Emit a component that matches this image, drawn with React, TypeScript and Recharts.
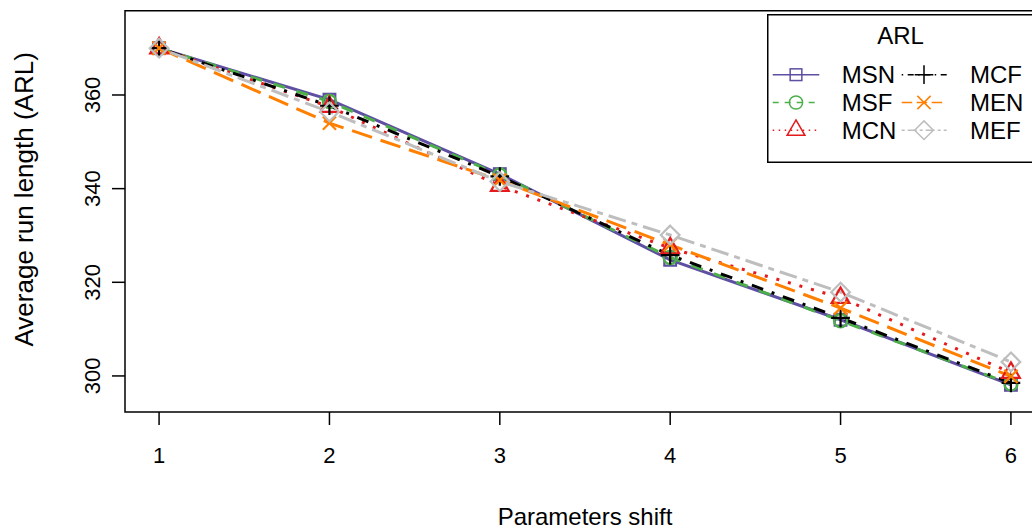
import React from 'react';
import { LineChart, Line, XAxis, YAxis, ReferenceArea, Legend, Label } from 'recharts';

const shifts = [1, 2, 3, 4, 5, 6];
const MSN = [370.0, 359.0, 343.1, 324.8, 312.0, 298.1];
const MSF = [370.0, 358.6, 342.9, 325.3, 311.8, 298.3];
const MCN = [370.0, 357.5, 340.6, 327.3, 316.7, 300.7];
const MCF = [370.0, 357.7, 342.6, 325.8, 312.4, 298.5];
const MEN = [370.0, 354.0, 341.8, 328.0, 314.5, 299.9];
const MEF = [370.0, 356.4, 341.5, 330.1, 317.9, 303.0];

const seriesNames = ['MSN', 'MSF', 'MCN', 'MCF', 'MEN', 'MEF'];
const seriesValues = [MSN, MSF, MCN, MCF, MEN, MEF];
const seriesColors = ['#5e4fa2', '#4daf4a', '#e41a1c', '#000000', '#ff7f00', '#bebebe'];
const seriesLty: number[][] = [[], [4, 4], [1, 3], [1, 3, 4, 3], [7, 3], [2, 2, 6, 2]];
const seriesPch = ['square', 'circle', 'triangle', 'plus', 'cross', 'diamond'];
const xTicks = [1, 2, 3, 4, 5, 6];
const yTicks = [300, 320, 340, 360];
const legendTitle = 'ARL';
const xTitle = 'Parameters shift';
const yTitle = 'Average run length (ARL)';

const FONT = '"Liberation Sans", Arial, Helvetica, sans-serif';

const data = shifts.map((s, i) => {
  const row: any = { shift: s };
  seriesNames.forEach((n, k) => (row[n] = seriesValues[k][i]));
  return row;
});

function Marker({ cx, cy, pch, color, sw, r }: any) {
  if (cx == null || cy == null) return null;
  const common = { fill: 'none', stroke: color, strokeWidth: sw };
  switch (pch) {
    case 'square': {
      const h = r * 0.886;
      return <rect x={cx - h} y={cy - h} width={2 * h} height={2 * h} {...common} />;
    }
    case 'circle':
      return <circle cx={cx} cy={cy} r={r} {...common} />;
    case 'triangle': {
      const rr = 1.555 * r, yc = 0.7776 * r, xc = 1.3468 * r;
      return <polygon points={`${cx},${cy - rr} ${cx + xc},${cy + yc} ${cx - xc},${cy + yc}`} {...common} />;
    }
    case 'plus': {
      const a = 1.414 * r;
      return <path d={`M${cx - a},${cy}H${cx + a}M${cx},${cy - a}V${cy + a}`} {...common} />;
    }
    case 'cross': {
      const a = r;
      return <path d={`M${cx - a},${cy - a}L${cx + a},${cy + a}M${cx - a},${cy + a}L${cx + a},${cy - a}`} {...common} />;
    }
    case 'diamond': {
      const a = 1.414 * r;
      return <polygon points={`${cx},${cy - a} ${cx + a},${cy} ${cx},${cy + a} ${cx - a},${cy}`} {...common} />;
    }
  }
  return null;
}

const dash = (lty: number[], f: number) => (lty.length ? lty.map((v) => v * f).join(' ') : undefined);

const XTick = (props: any) => {
  const { x, y, payload } = props;
  return (
    <text x={x} y={y} dy="0.71em" textAnchor="middle" fontSize={22} fontFamily={FONT} fill="#000">
      {payload.value}
    </text>
  );
};

const YTick = (props: any) => {
  const { x, y, payload } = props;
  return (
    <text x={x} y={y} transform={`rotate(-90 ${x} ${y})`} textAnchor="middle" fontSize={22} fontFamily={FONT} fill="#000">
      {payload.value}
    </text>
  );
};

const LegendBox = () => {
  const rows = [0, 1, 2];
  const rowY = [60.7, 88.5, 116.2];
  const cols = [
    { l1: 5.7, l2: 52.3, m: 29, t: 74.7 },
    { l1: 134.7, l2: 179.7, m: 157, t: 203 },
  ];
  return (
    <svg width={300} height={152} style={{ display: 'block', overflow: 'visible' }}>
      <rect x={0.75} y={0.75} width={320} height={147.5} fill="#fff" stroke="#000" strokeWidth={1.5} />
      <text x={133.5} y={30} textAnchor="middle" fontSize={24} fontFamily={FONT} fill="#000">
        {legendTitle}
      </text>
      {seriesNames.map((n, k) => {
        const c = cols[Math.floor(k / 3)];
        const y = rowY[rows[k % 3]];
        return (
          <g key={n}>
            <line x1={c.l1} x2={c.l2} y1={y} y2={y} stroke={seriesColors[k]} strokeWidth={1.5} strokeDasharray={dash(seriesLty[k], 1.5)} />
            <Marker cx={c.m} cy={y} pch={seriesPch[k]} color={seriesColors[k]} sw={1.5} r={6.6} />
            <text x={c.t} y={y} dy="0.36em" fontSize={24} fontFamily={FONT} fill="#000">
              {n}
            </text>
          </g>
        );
      })}
    </svg>
  );
};

export default function App() {
  return (
    <div style={{ position: 'absolute', left: 0, top: 0, width: 1032, height: 530, overflow: 'hidden', background: '#fff' }}>
      <LineChart width={1050} height={530} data={data} margin={{ top: 10.7, right: 5, bottom: 0, left: 0 }}>
        <XAxis
          dataKey="shift"
          type="number"
          domain={[0.8, 6.2]}
          ticks={xTicks}
          axisLine={false}
          tickLine={{ stroke: '#000', strokeWidth: 1.5 }}
          tickSize={13}
          tickMargin={22}
          tick={<XTick />}
          height={118}
          interval={0}
        >
          <Label
            content={(p: any) => {
              const vb = p.viewBox;
              return (
                <text x={vb.x + vb.width / 2} y={vb.y + 113} textAnchor="middle" fontSize={24} fontFamily={FONT} fill="#000">
                  {xTitle}
                </text>
              );
            }}
          />
        </XAxis>
        <YAxis
          type="number"
          domain={[292.3, 378]}
          ticks={yTicks}
          axisLine={false}
          tickLine={{ stroke: '#000', strokeWidth: 1.5 }}
          tickSize={13}
          tickMargin={12}
          tick={<YTick />}
          width={125}
          interval={0}
        >
          <Label
            content={(p: any) => {
              const vb = p.viewBox;
              const cy = vb.y + vb.height / 2 - 12;
              return (
                <text x={33} y={cy} transform={`rotate(-90 33 ${cy})`} textAnchor="middle" fontSize={26} fontFamily={FONT} fill="#000">
                  {yTitle}
                </text>
              );
            }}
          />
        </YAxis>
        <ReferenceArea x1={0.8} x2={6.2} y1={292.3} y2={378} fill="none" stroke="#000" strokeWidth={1.5} ifOverflow="visible" />
        {seriesNames.map((n, k) => (
          <Line
            key={n}
            dataKey={n}
            type="linear"
            stroke={seriesColors[k]}
            strokeWidth={3}
            strokeDasharray={dash(seriesLty[k], 3)}
            isAnimationActive={false}
            dot={(p: any) => (
              <Marker key={`${n}-${p.index}`} cx={p.cx} cy={p.cy} pch={seriesPch[k]} color={seriesColors[k]} sw={2.2} r={6.6} />
            )}
            activeDot={false}
          />
        ))}
        <Legend
          layout="vertical"
          align="center"
          verticalAlign="middle"
          content={() => <LegendBox />}
          wrapperStyle={{ position: 'absolute', left: 767, top: 14.3, width: 300, height: 152 }}
        />
      </LineChart>
    </div>
  );
}
